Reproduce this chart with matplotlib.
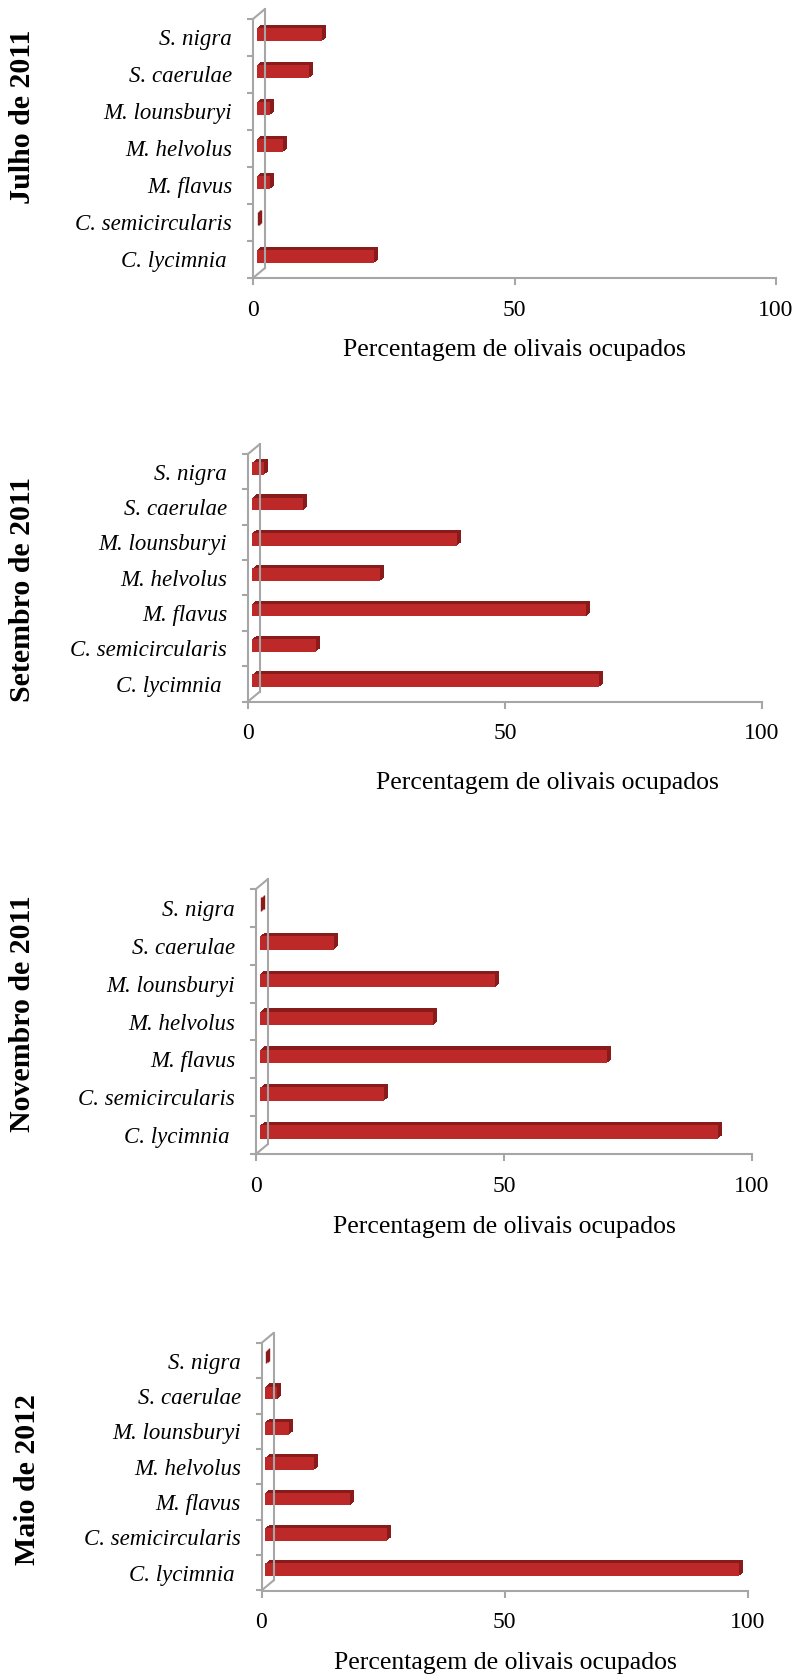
import numpy as np
import matplotlib
matplotlib.use("Agg")
import matplotlib.pyplot as plt
from matplotlib.transforms import ScaledTranslation

# dados: % de olivais ocupados por especie, em cada data de amostragem
especies = ["S. nigra", "S. caerulae", "M. lounsburyi", "M. helvolus",
            "M. flavus", "C. semicircularis", "C. lycimnia "]
meses = ["Julho de 2011", "Setembro de 2011", "Novembro de 2011", "Maio de 2012"]
julho = [12.5, 10, 2.5, 5, 2.5, 0, 22.5]
setembro = [2.5, 10, 40, 25, 65, 12.5, 67.5]
novembro = [0, 15, 47.5, 35, 70, 25, 92.5]
maio = [0, 2.5, 5, 10, 17.5, 25, 97.5]
xticks = [0, 50, 100]
xlabel = "Percentagem de olivais ocupados"

W, H = 801, 1679
plt.rcParams['font.family'] = ['Liberation Serif', 'DejaVu Serif']

fig = plt.figure(figsize=(W / 100, H / 100), dpi=100)

# posicoes dos paineis em pixels: esquerda, direita, topo, base
caixas = [(253, 776, 19, 278),
          (248, 762, 454, 701.5),
          (256, 752, 889, 1154),
          (261.5, 748, 1343, 1590.5)]
# posicao do titulo rodado e do xlabel (pixels)
pos_ylabel = [(23, 117), (23, 589), (23, 1014), (28, 1480)]
pos_xlabel = [(514, 350), (547, 783), (504, 1227), (505, 1663)]

vermelho = "#bd2829"
escuro = "#8a1b1b"
cinza = "#a6a6a6"


def desloc(dx, dy):
    # deslocamento em pixels
    return ScaledTranslation(dx / 100, dy / 100, fig.dpi_scale_trans)


dados = [julho, setembro, novembro, maio]
y = np.arange(len(especies))[::-1]

for i in range(4):
    l, r, t, b = caixas[i]
    ax = fig.add_axes([l / W, 1 - b / H, (r - l) / W, (b - t) / H])
    ax.set_xlim(0, 100)
    ax.set_ylim(-0.5, 6.5)
    ax.patch.set_visible(False)

    # parede do fundo (efeito 3D)
    ax.plot([0, 0], [-0.5, 6.5], color=cinza, lw=1.5, clip_on=False,
            transform=ax.transData + desloc(12, 10))
    for yy in [-0.5, 6.5]:
        ax.annotate("", xy=(0, yy), xytext=(12, 10), textcoords="offset pixels",
                    arrowprops=dict(arrowstyle="-", color=cinza, lw=1.5,
                                    shrinkA=0, shrinkB=0))

    # barras 3D: copias escuras deslocadas por tras + face da frente
    # (so as barras a zero levam contorno, para aparecer a face lateral)
    lw = [1.0 if v == 0 else 0 for v in dados[i]]
    for k in range(1, 5):
        ax.barh(y, dados[i], height=0.36, color=escuro, edgecolor=escuro,
                linewidth=lw, clip_on=False,
                transform=ax.transData + desloc(3.6 + k * 1.0, 3 + k * 0.8))
    ax.barh(y, dados[i], height=0.36, color=vermelho, linewidth=0,
            clip_on=False, transform=ax.transData + desloc(3.6, 3))

    for s in ["top", "right"]:
        ax.spines[s].set_visible(False)
    for s in ["left", "bottom"]:
        ax.spines[s].set_color(cinza)
        ax.spines[s].set_linewidth(1.5)

    ax.set_xticks(xticks)
    ax.set_xticklabels([str(v) for v in xticks], fontsize=17)
    ax.tick_params(axis="x", length=5, width=1.5, color=cinza, pad=10.5)

    ax.set_yticks(y)
    ax.set_yticklabels(especies, fontsize=16.5, style="italic")
    ax.set_yticks(np.arange(-0.5, 7), minor=True)
    ax.tick_params(axis="y", which="major", length=0, pad=15)
    ax.tick_params(axis="y", which="minor", length=4.5, width=1.5, color=cinza)

    ax.set_xlabel(xlabel, fontsize=18.5)
    ax.xaxis.label.set_va("center")
    ax.xaxis.set_label_coords(pos_xlabel[i][0] / W, 1 - pos_xlabel[i][1] / H,
                              transform=fig.transFigure)
    ax.set_ylabel(meses[i], fontsize=21.5, fontweight="bold")
    ax.yaxis.label.set_va("center")
    ax.yaxis.set_label_coords(pos_ylabel[i][0] / W, 1 - pos_ylabel[i][1] / H,
                              transform=fig.transFigure)

fig.savefig("out.png", dpi=100)
